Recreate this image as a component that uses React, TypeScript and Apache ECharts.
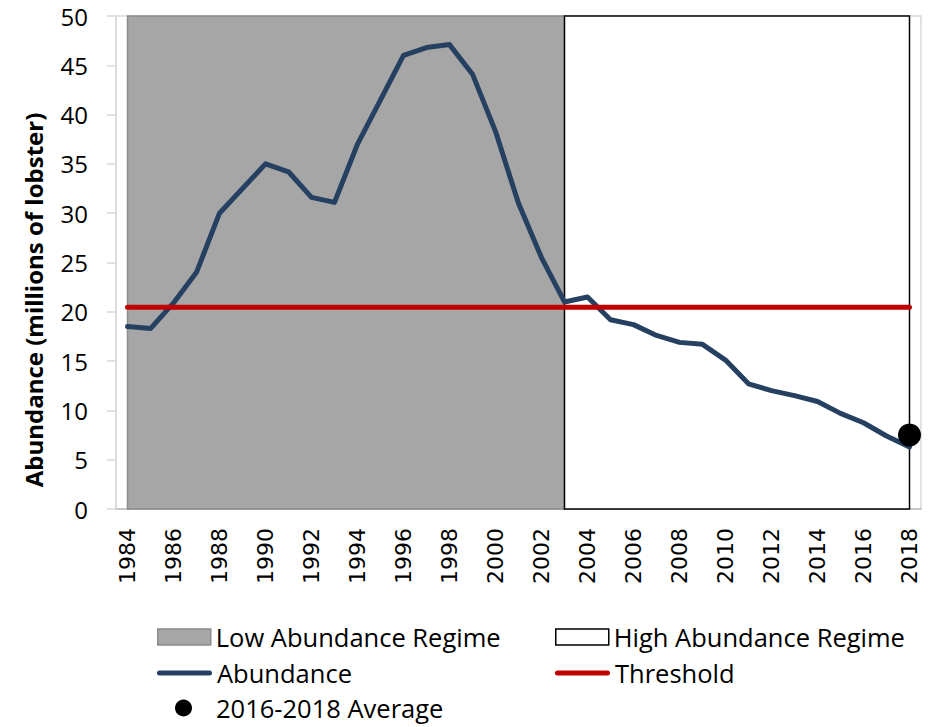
import React, { useEffect, useRef } from "react";
import * as echarts from "echarts";

const years: string[] = [
  "1984","1985","1986","1987","1988","1989","1990","1991","1992","1993",
  "1994","1995","1996","1997","1998","1999","2000","2001","2002","2003",
  "2004","2005","2006","2007","2008","2009","2010","2011","2012","2013",
  "2014","2015","2016","2017","2018",
];
const abundance: number[] = [
  18.5, 18.3, 20.9, 24.0, 30.0, 32.5, 35.0, 34.2, 31.6, 31.1,
  37.0, 41.5, 46.0, 46.8, 47.1, 44.1, 38.3, 31.0, 25.5, 21.0,
  21.5, 19.2, 18.7, 17.6, 16.9, 16.7, 15.1, 12.7, 12.0, 11.5,
  10.9, 9.7, 8.75, 7.4, 6.3,
];
const thresholdValue = 20.45;
const averageYear = "2018";
const averageValue = 7.5;
const lowRegime: [string, string] = ["1984", "2003"];
const highRegime: [string, string] = ["2003", "2018"];
const yMin = 0;
const yMax = 50;
const yInterval = 5;

const CAL = "'Open Sans', Lato, sans-serif";
const LINE_ICON = "path://M2.5,0 L52.5,0 A2.5,2.5 0 0 1 52.5,5 L2.5,5 A2.5,2.5 0 0 1 2.5,0 Z";

export default function App() {
  const ref = useRef<HTMLDivElement>(null);
  useEffect(() => {
    if (!ref.current) return;
    const chart = echarts.init(ref.current, undefined, { renderer: "svg" });
    const legendText = { fontFamily: CAL, fontSize: 25.5, color: "#000" };
    const legendBase = {
      orient: "horizontal",
      padding: 0,
      selectedMode: false,
      itemWidth: 53,
      itemHeight: 16,
      textStyle: legendText,
    };
    chart.setOption({
      animation: false,
      backgroundColor: "#fff",
      grid: {
        left: 116,
        right: 13,
        top: 16,
        bottom: 218,
        show: true,
        borderColor: "#D9D9D9",
        borderWidth: 1.5,
      },
      xAxis: {
        type: "category",
        data: years,
        boundaryGap: true,
        axisLine: { lineStyle: { color: "#BFBFBF", width: 1.5 } },
        axisTick: { interval: 0, length: 9, lineStyle: { color: "#D9D9D9", width: 1.5 } },
        axisLabel: {
          interval: 1,
          rotate: 90,
          margin: 19,
          fontFamily: "'DejaVu Sans', sans-serif",
          fontSize: 22,
          color: "#000",
        },
        splitLine: { show: false },
      },
      yAxis: {
        type: "value",
        min: yMin,
        max: yMax,
        interval: yInterval,
        axisLine: { show: true, lineStyle: { color: "#D9D9D9", width: 1.5 } },
        axisTick: { show: true, length: 9, lineStyle: { color: "#D9D9D9", width: 1.5 } },
        axisLabel: { margin: 28, fontFamily: CAL, fontSize: 24, color: "#000" },
        splitLine: { show: false },
      },
      graphic: [
        {
          type: "text",
          x: 33,
          y: 300,
          rotation: Math.PI / 2,
          style: {
            text: "Abundance (millions of lobster)",
            font: `bold 24px ${CAL}`,
            fill: "#000",
            align: "center",
            verticalAlign: "middle",
          },
        },
      ],
      legend: [
        {
          ...legendBase,
          left: 157,
          top: 624,
          data: [
            {
              name: "Low Abundance Regime",
              icon: "rect",
              itemStyle: { color: "#A6A6A6", borderColor: "#8C8C8C", borderWidth: 1.5 },
            },
          ],
        },
        {
          ...legendBase,
          left: 555,
          top: 624,
          data: [
            {
              name: "High Abundance Regime",
              icon: "rect",
              itemStyle: { color: "#FFFFFF", borderColor: "#000000", borderWidth: 1.5 },
            },
          ],
        },
        {
          ...legendBase,
          left: 157,
          top: 660,
          itemWidth: 55,
          data: [{ name: "Abundance", icon: LINE_ICON, itemStyle: { color: "#254061" } }],
        },
        {
          ...legendBase,
          left: 555,
          top: 660,
          itemWidth: 55,
          data: [{ name: "Threshold", icon: LINE_ICON, itemStyle: { color: "#C00000" } }],
        },
        {
          ...legendBase,
          left: 175,
          top: 695,
          itemWidth: 17,
          itemHeight: 17,
          textStyle: { ...legendText, padding: [0, 0, 0, 19] },
          data: [{ name: "2016-2018 Average", icon: "circle", itemStyle: { color: "#000", opacity: 1 } }],
        },
      ],
      series: [
        {
          name: "Low Abundance Regime",
          type: "line",
          data: [],
          z: 1,
          itemStyle: { color: "#A6A6A6" },
          markArea: {
            silent: true,
            itemStyle: { color: "#A6A6A6", borderColor: "#8C8C8C", borderWidth: 1.5 },
            data: [[{ xAxis: lowRegime[0], yAxis: yMin }, { xAxis: lowRegime[1], yAxis: yMax }]],
          },
        },
        {
          name: "High Abundance Regime",
          type: "line",
          data: [],
          z: 1,
          itemStyle: { color: "#FFFFFF" },
          markArea: {
            silent: true,
            itemStyle: { color: "#FFFFFF", borderColor: "#000000", borderWidth: 1.5 },
            data: [[{ xAxis: highRegime[0], yAxis: yMin }, { xAxis: highRegime[1], yAxis: yMax }]],
          },
        },
        {
          name: "Abundance",
          type: "line",
          data: abundance,
          symbol: "none",
          z: 3,
          itemStyle: { color: "#254061" },
          lineStyle: { color: "#254061", width: 5, cap: "round", join: "round" },
        },
        {
          name: "Threshold",
          type: "line",
          data: years.map(() => thresholdValue),
          symbol: "none",
          z: 4,
          itemStyle: { color: "#C00000" },
          lineStyle: { color: "#C00000", width: 5, cap: "round" },
        },
        {
          name: "2016-2018 Average",
          type: "scatter",
          data: [[averageYear, averageValue]],
          symbol: "circle",
          symbolSize: 23,
          z: 5,
          itemStyle: { color: "#000000", opacity: 1 },
        },
      ],
    });
    return () => chart.dispose();
  }, []);
  return (
    <div
      ref={ref}
      style={{ position: "fixed", left: 0, top: 0, width: 934, height: 727 }}
    />
  );
}
